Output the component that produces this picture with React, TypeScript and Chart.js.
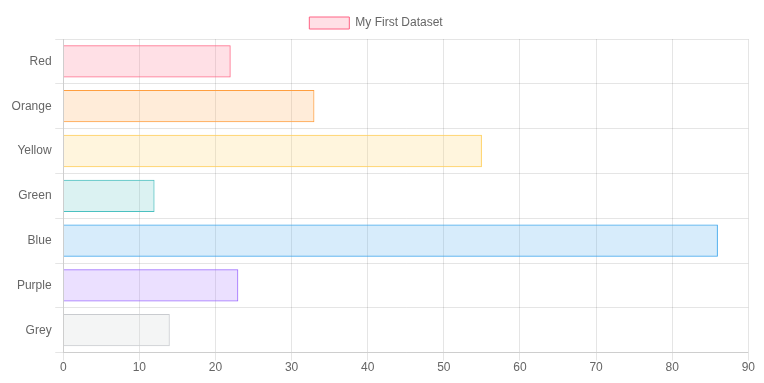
import React, { useEffect, useRef } from "react";
import { Chart, registerables } from "chart.js";

Chart.register(...registerables);

const categories = ["Red", "Orange", "Yellow", "Green", "Blue", "Purple", "Grey"];
const values = [22, 33, 55, 12, 86, 23, 14];
const fillColors = [
  "rgba(255, 99, 132, 0.2)",
  "rgba(255, 159, 64, 0.2)",
  "rgba(255, 205, 86, 0.2)",
  "rgba(75, 192, 192, 0.2)",
  "rgba(54, 162, 235, 0.2)",
  "rgba(153, 102, 255, 0.2)",
  "rgba(201, 203, 207, 0.2)",
];
const lineColors = [
  "rgb(255, 99, 132)",
  "rgb(255, 159, 64)",
  "rgb(255, 205, 86)",
  "rgb(75, 192, 192)",
  "rgb(54, 162, 235)",
  "rgb(153, 102, 255)",
  "rgb(201, 203, 207)",
];

const legendNudge = {
  id: "legendNudge",
  afterLayout(chart: any) {
    if (chart.legend) {
      chart.legend.right -= 11;
    }
  },
};

export default function App() {
  const ref = useRef<HTMLCanvasElement | null>(null);
  useEffect(() => {
    if (!ref.current) return;
    Chart.defaults.font.family = "'Liberation Sans', Arial, Helvetica, sans-serif";
    Chart.defaults.color = "#666";
    const chart = new Chart(ref.current, {
      type: "bar",
      data: {
        labels: categories,
        datasets: [
          {
            label: "My First Dataset",
            data: values,
            backgroundColor: fillColors,
            borderColor: lineColors,
            borderWidth: 1,
          },
        ],
      },
      plugins: [legendNudge],
      options: {
        indexAxis: "y",
        animation: false,
        responsive: true,
        maintainAspectRatio: false,
        layout: { padding: { top: -1 } },
        scales: {
          x: { beginAtZero: true, max: 90, ticks: { stepSize: 10, padding: 0 } },
          y: { ticks: { padding: 3.6 } },
        },
      },
    });
    return () => chart.destroy();
  }, []);
  return (
    <div style={{ width: 747, height: 367 }}>
      <canvas ref={ref} />
    </div>
  );
}
